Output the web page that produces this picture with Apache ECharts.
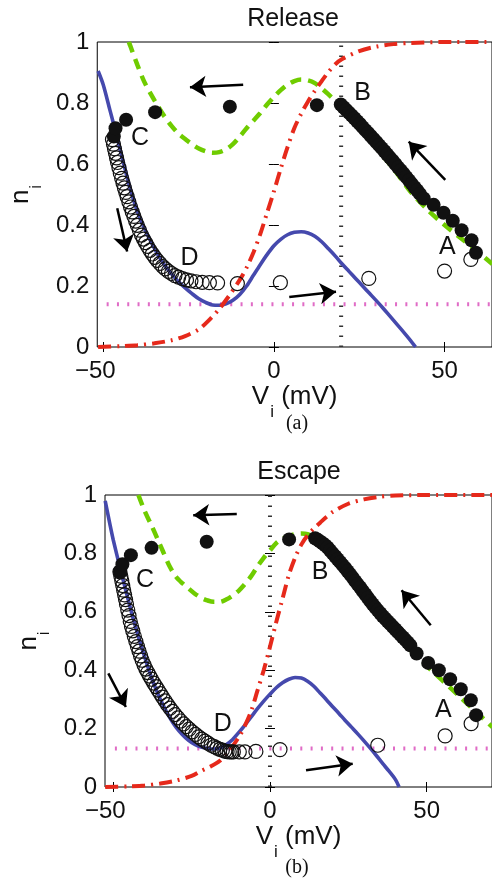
<!DOCTYPE html>
<html>
<head>
<meta charset="utf-8">
<script src="https://cdn.jsdelivr.net/npm/echarts@6/dist/echarts.min.js"></script>
<style>
html, body { margin: 0; padding: 0; background: #fff; }
#chart { width: 492px; height: 881px; }
</style>
</head>
<body>
<div id="chart"></div>
<script>
// ---------- panel (a) Release ----------
var blueA_V = [-51.5, -50, -48, -46, -44, -42, -40, -38, -36, -34, -32, -30, -28, -26, -24, -22, -20, -18, -16, -14, -12, -10, -8, -6, -4, -2, 0, 2, 4, 6, 8, 10, 12, 14, 16, 18, 20, 22, 24, 26, 28, 30, 32, 34, 36, 38, 40, 41.5];
var blueA_n = [0.905, 0.86, 0.775, 0.69, 0.60, 0.515, 0.445, 0.39, 0.345, 0.303, 0.268, 0.24, 0.215, 0.194, 0.175, 0.158, 0.146, 0.138, 0.137, 0.142, 0.153, 0.172, 0.2, 0.235, 0.27, 0.303, 0.332, 0.353, 0.368, 0.376, 0.378, 0.374, 0.363, 0.345, 0.322, 0.298, 0.272, 0.248, 0.224, 0.2, 0.176, 0.152, 0.127, 0.101, 0.075, 0.049, 0.022, 0];

var greenA_V = [-42.5, -42, -40, -38, -36, -34, -32, -30, -28, -26, -24, -22, -20, -18, -16, -14, -12, -10, -8, -6, -4, -2, 0, 2, 4, 6, 8, 10, 12, 14, 16, 20, 25, 30, 35, 40, 45, 50, 55, 60, 64];
var greenA_n = [1.0, 0.985, 0.925, 0.87, 0.828, 0.79, 0.755, 0.725, 0.70, 0.682, 0.665, 0.651, 0.642, 0.637, 0.639, 0.648, 0.665, 0.69, 0.717, 0.742, 0.767, 0.795, 0.82, 0.842, 0.86, 0.872, 0.877, 0.874, 0.865, 0.848, 0.828, 0.785, 0.72, 0.652, 0.585, 0.51, 0.45, 0.40, 0.355, 0.31, 0.272];

var redA_V = [-51.5, -45, -40, -35, -30, -26, -22, -19, -16, -13, -10, -8, -6, -4, -2, 0, 2, 4, 6, 8, 10, 12, 14, 16, 18, 20, 25, 30, 35, 40, 50, 64];
var redA_n = [0, 0.003, 0.006, 0.012, 0.022, 0.036, 0.058, 0.088, 0.125, 0.17, 0.22, 0.26, 0.31, 0.37, 0.44, 0.51, 0.585, 0.655, 0.718, 0.765, 0.805, 0.84, 0.872, 0.902, 0.927, 0.944, 0.97, 0.985, 0.993, 0.997, 1.0, 1.0];

var openA_V = [-47.3, -47.0, -46.7, -46.4, -46.1, -45.8, -45.4, -45.0, -44.6, -44.2, -43.8, -43.4, -43.0, -42.5, -42.0, -41.5, -41.0, -40.5, -40.0, -39.4, -38.8, -38.2, -37.6, -37.0, -36.3, -35.6, -34.9, -34.2, -33.4, -32.6, -31.8, -30.9, -30.0, -29.0, -27.9, -26.8, -25.6, -24.3, -22.8, -21.0, -18.9, -16.5, -10.7, 1.9, 27.8, 50.0, 57.7];
var openA_n = [0.68, 0.665, 0.65, 0.635, 0.62, 0.605, 0.588, 0.57, 0.553, 0.537, 0.522, 0.507, 0.493, 0.476, 0.459, 0.443, 0.428, 0.413, 0.399, 0.383, 0.367, 0.354, 0.342, 0.33, 0.317, 0.305, 0.294, 0.284, 0.274, 0.264, 0.256, 0.248, 0.241, 0.234, 0.229, 0.224, 0.22, 0.217, 0.214, 0.212, 0.211, 0.21, 0.208, 0.211, 0.225, 0.249, 0.287];

var fillA_V = [-46.9, -46.4, -43.3, -34.8, -12.9, 12.6,
    19.6, 20.4, 21.2, 22.0, 22.8, 23.6, 24.4, 25.2, 26.0, 26.8, 27.6, 28.4, 29.2, 30.0, 30.8, 31.6, 32.4, 33.2, 34.0, 34.8, 35.6, 36.4, 37.2, 38.0, 38.8, 39.6, 40.4, 41.2, 42.0, 42.8,
    43.9, 46.8, 49.7, 52.4, 55.0, 57.9, 59.2];
var fillA_n = [0.69, 0.717, 0.745, 0.77, 0.788, 0.793,
    0.795, 0.786, 0.777, 0.768, 0.759, 0.75, 0.74, 0.731, 0.721, 0.711, 0.702, 0.692, 0.682, 0.672, 0.662, 0.652, 0.642, 0.631, 0.621, 0.611, 0.6, 0.589, 0.579, 0.568, 0.557, 0.546, 0.535, 0.524, 0.513, 0.502,
    0.487, 0.466, 0.44, 0.414, 0.383, 0.35, 0.309];

var threshA = [[-49, 0.14], [64, 0.14]];
var vlineA = [[19.7, 0], [19.7, 1]];
var arrowsA = [
    [[-9.0, 0.86], [-24.6, 0.852]],
    [[-45.9, 0.455], [-43.0, 0.313]],
    [[4.5, 0.164], [18.2, 0.181]],
    [[50.2, 0.548], [39.5, 0.673]]
];
var lettersA = [['C', -39.2, 0.686], ['D', -24.7, 0.291], ['B', 26.0, 0.833], ['A', 50.8, 0.328]];

// ---------- panel (b) Escape ----------
var blueB_V = [-52.6, -51, -50, -48, -46, -44, -42, -40, -38, -36, -34, -32, -30, -28, -26, -24, -22, -20, -18, -16, -14, -12, -10, -8, -6, -4, -2, 0, 2, 4, 6, 8, 10, 12, 14, 16, 18, 20, 22, 24, 26, 28, 30, 32, 34, 36, 38, 40, 41.2];
var blueB_n = [0.98, 0.895, 0.845, 0.757, 0.672, 0.59, 0.515, 0.445, 0.38, 0.325, 0.278, 0.238, 0.205, 0.18, 0.16, 0.146, 0.137, 0.132, 0.13, 0.133, 0.145, 0.162, 0.186, 0.212, 0.24, 0.268, 0.294, 0.318, 0.34, 0.357, 0.369, 0.375, 0.373, 0.362, 0.345, 0.322, 0.299, 0.275, 0.252, 0.228, 0.205, 0.182, 0.158, 0.133, 0.107, 0.08, 0.054, 0.026, 0];

var greenB_V = [-42, -40, -38, -36, -34, -32, -30, -28, -26, -24, -22, -20, -18, -16, -14, -12, -10, -8, -6, -4, -2, 0, 2, 4, 6, 8, 10, 12, 14, 16, 20, 25, 30, 35, 40, 45, 50, 55, 60, 65, 71];
var greenB_n = [1.0, 0.945, 0.9, 0.852, 0.803, 0.755, 0.72, 0.698, 0.68, 0.662, 0.648, 0.639, 0.634, 0.634, 0.642, 0.655, 0.672, 0.695, 0.722, 0.755, 0.785, 0.81, 0.835, 0.85, 0.86, 0.866, 0.868, 0.866, 0.856, 0.835, 0.785, 0.72, 0.655, 0.59, 0.53, 0.468, 0.415, 0.365, 0.315, 0.265, 0.205];

var redB_V = [-52.6, -45, -40, -35, -30, -25, -22, -19, -16, -13, -10, -8, -6, -4, -2, 0, 2, 4, 6, 8, 10, 12, 14, 16, 18, 20, 25, 30, 35, 40, 50, 71];
var redB_n = [0, 0.002, 0.005, 0.012, 0.022, 0.038, 0.055, 0.07, 0.09, 0.125, 0.17, 0.21, 0.26, 0.33, 0.4, 0.48, 0.565, 0.645, 0.725, 0.785, 0.83, 0.862, 0.885, 0.905, 0.925, 0.942, 0.97, 0.985, 0.994, 0.998, 1.0, 1.0];

var openB_V = [-47.9, -47.6, -47.3, -47.0, -46.7, -46.4, -46.1, -45.8, -45.4, -45.0,
    -44.6, -44.2, -43.8, -43.3, -42.8, -42.3, -41.8, -41.3, -40.8, -40.2,
    -39.6, -39.0, -38.4, -37.8, -37.1, -36.4, -35.7, -35.0, -34.3, -33.5,
    -32.7, -31.9, -31.1, -30.3, -29.4, -28.5, -27.6, -26.7, -25.8, -24.8,
    -23.8, -22.8, -21.8, -20.8, -19.8, -18.8, -17.8, -16.9, -16.0, -15.2,
    -14.4, -13.7, -13.0, -12.3, -11.7, -9.8, -8.0, -4.5, 3.2, 34.4,
    55.9, 64.2];
var openB_n = [0.737, 0.722, 0.706, 0.690, 0.674, 0.658, 0.642, 0.626, 0.606, 0.587,
    0.567, 0.55, 0.535, 0.516, 0.498, 0.481, 0.465, 0.449, 0.434, 0.418,
    0.404, 0.392, 0.38, 0.369, 0.356, 0.344, 0.332, 0.32, 0.308, 0.295,
    0.282, 0.27, 0.259, 0.248, 0.237, 0.226, 0.216, 0.207, 0.198, 0.189,
    0.18, 0.172, 0.164, 0.157, 0.15, 0.143, 0.138, 0.133, 0.129, 0.126,
    0.123, 0.121, 0.12, 0.12, 0.12, 0.12, 0.12, 0.122, 0.128, 0.143,
    0.175, 0.217];

var fillB_V = [-47.9, -47.1, -44.4, -37.8, -20.2, 6.1,
    14.4, 15.2, 16.0, 16.8, 17.6, 18.4, 19.2, 20.0, 20.8, 21.6, 22.4, 23.2, 24.0, 24.8, 25.6, 26.4, 27.2, 28.0, 28.8, 29.6, 30.4, 31.2, 32.0, 32.8, 33.6, 34.4, 35.2, 36.0, 36.8, 37.6, 38.4, 39.2, 40.0, 40.8, 41.6, 42.4, 43.2, 44.0, 44.8,
    46.8, 50.5, 53.9, 57.5, 60.9, 64.1, 65.8];
var fillB_n = [0.737, 0.763, 0.794, 0.819, 0.84, 0.848,
    0.852, 0.847, 0.841, 0.835, 0.828, 0.82, 0.81, 0.80, 0.79, 0.78, 0.77, 0.76, 0.75, 0.739, 0.728, 0.717, 0.705, 0.694, 0.683, 0.671, 0.66, 0.648, 0.637, 0.626, 0.615, 0.605, 0.595, 0.585, 0.576, 0.567, 0.558, 0.549, 0.54, 0.531, 0.522, 0.513, 0.504, 0.495, 0.485,
    0.457, 0.425, 0.40, 0.369, 0.335, 0.297, 0.246];

var threshB = [[-49.5, 0.132], [71, 0.132]];
var vlineB = [[0, 0], [0, 1]];
var arrowsB = [
    [[-10.6, 0.935], [-24.5, 0.931]],
    [[-51.6, 0.389], [-46.0, 0.274]],
    [[11.5, 0.057], [26.4, 0.080]],
    [[51.3, 0.554], [42.0, 0.674]]
];
var lettersB = [['C', -39.9, 0.709], ['B', 16.0, 0.737], ['D', -15.1, 0.217], ['A', 55.3, 0.263]];

var xTicks = [-50, 0, 50];

// ---------- styling helpers ----------
var FONT = '"Liberation Sans", Arial, Helvetica, sans-serif';
var SERIF = '"Liberation Serif", "Times New Roman", serif';
var INK = '#111';

function zip(xs, ys) {
    var out = [];
    for (var i = 0; i < xs.length; i++) {
        out.push([xs[i], ys[i]]);
    }
    return out;
}

var subRich = {
    v: { fontSize: 26, fontFamily: FONT, color: INK, lineHeight: 28, verticalAlign: 'top' },
    s: { fontSize: 17, fontFamily: FONT, color: INK, lineHeight: 17, padding: [20, 0, 0, 1], verticalAlign: 'top' }
};

function fmtX(v) {
    if (v < 0) {
        return '{neg|\u2212' + (-v) + '}';
    }
    return '{pos|' + v + '}';
}

function xAxisPair(gridIndex, min, max, nameGap) {
    var tick = { show: true, inside: true, length: 5, customValues: xTicks, lineStyle: { color: '#000', width: 1 } };
    return [
        {
            type: 'value', gridIndex: gridIndex, position: 'bottom', min: min, max: max,
            axisLine: { show: false },
            axisTick: tick,
            axisLabel: {
                show: true, customValues: xTicks, margin: 12, formatter: fmtX,
                rich: {
                    neg: { fontSize: 24, fontFamily: FONT, color: INK, padding: [0, 16, 0, 0] },
                    pos: { fontSize: 24, fontFamily: FONT, color: INK }
                }
            },
            splitLine: { show: false },
            name: '{v|V}{s|i}{v| (mV)}',
            nameLocation: 'middle',
            nameGap: nameGap,
            nameTextStyle: { rich: subRich }
        },
        {
            type: 'value', gridIndex: gridIndex, position: 'top', min: min, max: max,
            axisLine: { show: false },
            axisTick: tick,
            axisLabel: { show: false, customValues: xTicks },
            splitLine: { show: false }
        }
    ];
}

function yAxisPair(gridIndex) {
    var tick = { show: true, inside: true, length: 5, lineStyle: { color: '#000', width: 1 } };
    return [
        {
            type: 'value', gridIndex: gridIndex, position: 'left', min: 0, max: 1, interval: 0.2,
            axisLine: { show: false },
            axisTick: tick,
            axisLabel: {
                show: true, margin: 8, fontSize: 24, fontFamily: FONT, color: INK,
                formatter: function(v) { return String(+v.toFixed(1)); }
            },
            splitLine: { show: false },
            name: '{v|n}{s|i}',
            nameLocation: 'middle',
            nameRotate: 90,
            nameGap: 52,
            nameTextStyle: { rich: subRich }
        },
        {
            type: 'value', gridIndex: gridIndex, position: 'right', min: 0, max: 1, interval: 0.2,
            axisLine: { show: false },
            axisTick: tick,
            axisLabel: { show: false },
            splitLine: { show: false }
        }
    ];
}

function panelSeries(ax, d) {
    return [
        {
            type: 'line', xAxisIndex: ax, yAxisIndex: ax, data: d.thresh, symbol: 'none',
            lineStyle: { color: '#e06cc6', width: 4, type: [2, 8.3] }, z: 2
        },
        {
            type: 'line', xAxisIndex: ax, yAxisIndex: ax, data: d.vline, symbol: 'none',
            lineStyle: { color: '#333', width: 4, type: [1.5, 8.5] }, z: 2
        },
        {
            type: 'line', xAxisIndex: ax, yAxisIndex: ax, data: zip(d.blueV, d.blueN), symbol: 'none', smooth: 0.3,
            lineStyle: { color: '#4549ad', width: 3.6 }, z: 3
        },
        {
            type: 'line', xAxisIndex: ax, yAxisIndex: ax, data: zip(d.greenV, d.greenN), symbol: 'none', smooth: 0.3,
            lineStyle: { color: '#6fcc00', width: 4.5, type: [11, 7] }, z: 3
        },
        {
            type: 'line', xAxisIndex: ax, yAxisIndex: ax, data: zip(d.redV, d.redN), symbol: 'none', smooth: 0.3,
            lineStyle: { color: '#e6291b', width: 4, type: [13, 6, 2, 6] }, z: 4
        },
        {
            type: 'scatter', xAxisIndex: ax, yAxisIndex: ax, data: zip(d.openV, d.openN), symbol: 'circle', symbolSize: 14,
            itemStyle: { color: 'rgba(255,255,255,0)', borderColor: INK, borderWidth: 1.2, opacity: 1 }, z: 5
        },
        {
            type: 'scatter', xAxisIndex: ax, yAxisIndex: ax, data: zip(d.fillV, d.fillN), symbol: 'circle', symbolSize: 14,
            itemStyle: { color: INK, opacity: 1 }, z: 6
        },
        {
            type: 'lines', coordinateSystem: 'cartesian2d', xAxisIndex: ax, yAxisIndex: ax,
            data: d.arrows.map(function(c) { return { coords: c }; }),
            symbol: ['none', 'arrow'], symbolSize: 16,
            lineStyle: { color: '#000', width: 2.5, opacity: 1, curveness: 0 }, z: 7
        },
        {
            type: 'scatter', xAxisIndex: ax, yAxisIndex: ax,
            data: d.letters.map(function(l) { return { name: l[0], value: [l[1], l[2]] }; }),
            symbolSize: 1, itemStyle: { color: 'rgba(0,0,0,0)', opacity: 1 },
            label: { show: true, position: 'inside', formatter: '{b}', fontSize: 25, fontFamily: FONT, color: INK, opacity: 1 },
            z: 8
        }
    ];
}

var panelA = {
    thresh: threshA, vline: vlineA, arrows: arrowsA, letters: lettersA,
    blueV: blueA_V, blueN: blueA_n, greenV: greenA_V, greenN: greenA_n, redV: redA_V, redN: redA_n,
    openV: openA_V, openN: openA_n, fillV: fillA_V, fillN: fillA_n
};
var panelB = {
    thresh: threshB, vline: vlineB, arrows: arrowsB, letters: lettersB,
    blueV: blueB_V, blueN: blueB_n, greenV: greenB_V, greenN: greenB_n, redV: redB_V, redN: redB_n,
    openV: openB_V, openN: openB_n, fillV: fillB_V, fillN: fillB_n
};

var titleStyle = { fontSize: 25, fontWeight: 'normal', color: INK, fontFamily: FONT };
var capStyle = { fontSize: 20, fontWeight: 'normal', color: INK, fontFamily: SERIF };

var option = {
    animation: false,
    backgroundColor: '#fff',
    title: [
        { text: 'Release', left: 293, top: 7, textAlign: 'center', padding: 0, textStyle: titleStyle },
        { text: '(a)', left: 297, top: 414, textAlign: 'center', padding: 0, textStyle: capStyle },
        { text: 'Escape', left: 299, top: 460, textAlign: 'center', padding: 0, textStyle: titleStyle },
        { text: '(b)', left: 297, top: 858, textAlign: 'center', padding: 0, textStyle: capStyle }
    ],
    grid: [
        { left: 95, right: 0, top: 42, bottom: 534, show: true, borderColor: '#000', borderWidth: 1, backgroundColor: 'transparent' },
        { left: 105, right: 0, top: 495, bottom: 94, show: true, borderColor: '#000', borderWidth: 1, backgroundColor: 'transparent' }
    ],
    xAxis: xAxisPair(0, -51.75, 63.9, 29).concat(xAxisPair(1, -52.66, 70.86, 34)),
    yAxis: yAxisPair(0).concat(yAxisPair(1)),
    series: panelSeries(0, panelA).concat(panelSeries(2, panelB))
};

var myChart = echarts.init(document.getElementById('chart'));
myChart.setOption(option);
</script>
</body>
</html>
